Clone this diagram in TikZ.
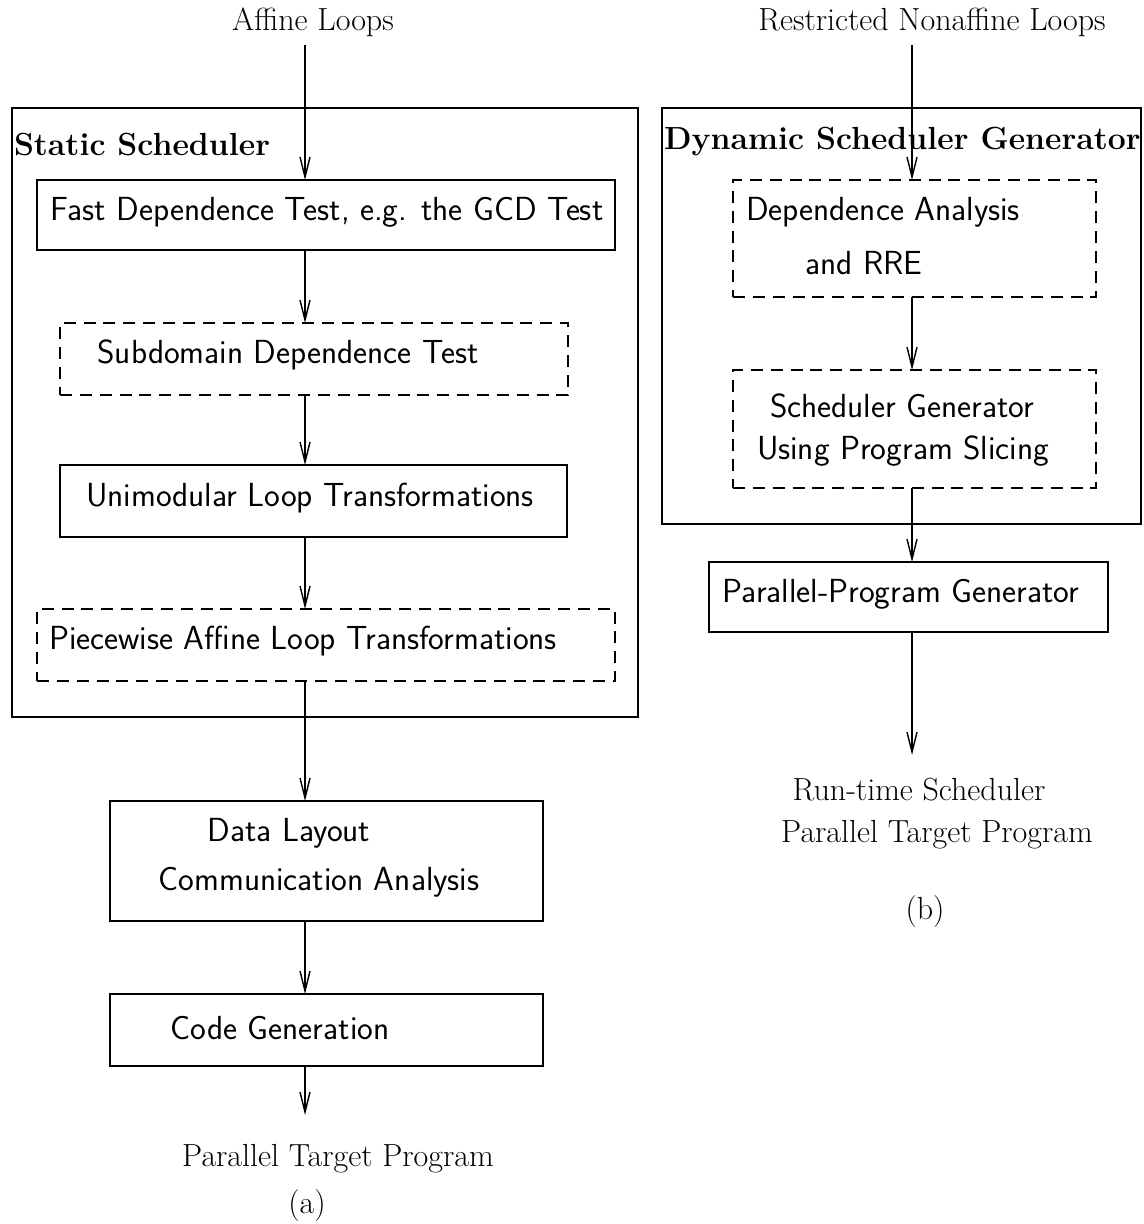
\documentclass[tikz,border=0pt]{standalone}
\usetikzlibrary{arrows.meta}
\begin{document}
\begin{tikzpicture}[
  every node/.style={inner sep=0pt, outer sep=0pt},
  solidbox/.style={draw, line width=1.1pt, rectangle},
  dashbox/.style={draw, line width=1.1pt, rectangle, dash pattern=on 6.8pt off 4.5pt},
  frame/.style={draw, line width=1.1pt},
  flow/.style={line width=0.8pt, -{Straight Barb[length=4mm, width=2mm]}},
  sflabel/.style={font=\fontsize{19}{23}\sffamily, text height=0.7em, text depth=0pt, yshift=-0.06cm},
  rmlabel/.style={font=\fontsize{18.2}{22}\selectfont, text height=0.7em, text depth=0pt, yshift=-0.05cm},
  bflabel/.style={font=\fontsize{18.2}{22}\bfseries, text height=0.7em, text depth=0pt, yshift=-0.08cm}
]
\useasboundingbox (0,0) rectangle (22.86,-24.48);

% ---------- (a) ----------
\node[rmlabel] (affine) at (6.26,-0.44) {Affine Loops};
\draw[frame] (0.24,-2.16) rectangle (12.76,-14.34);
\node[bflabel, anchor=west] (static) at (0.28,-2.9) {Static Scheduler};

\node[solidbox, minimum width=11.56cm, minimum height=1.4cm] (fast) at (6.52,-4.3) {};
\node[sflabel] (fastt) at (6.54,-4.22) {Fast Dependence Test, e.g. the GCD Test};

\node[dashbox, minimum width=10.16cm, minimum height=1.44cm] (sub) at (6.28,-7.18) {};
\node[sflabel] (subt) at (5.76,-7.08) {Subdomain Dependence Test};

\node[solidbox, minimum width=10.14cm, minimum height=1.44cm] (uni) at (6.27,-10.02) {};
\node[sflabel] (unit) at (6.2,-9.94) {Unimodular Loop Transformations};

\node[dashbox, minimum width=11.56cm, minimum height=1.44cm] (piece) at (6.52,-12.9) {};
\node[sflabel] (piecet) at (6.06,-12.8) {Piecewise Affine Loop Transformations};

\node[solidbox, minimum width=8.66cm, minimum height=2.4cm] (data) at (6.53,-17.22) {};
\node[sflabel] (datat1) at (5.78,-16.64) {Data Layout};
\node[sflabel] (datat2) at (6.38,-17.62) {Communication Analysis};

\node[solidbox, minimum width=8.66cm, minimum height=1.44cm] (code) at (6.53,-20.6) {};
\node[sflabel] (codet) at (5.6,-20.6) {Code Generation};

\coordinate (aend) at (6.1,-22.3);
\node[rmlabel] (ptpa) at (6.76,-23.16) {Parallel Target Program};
\node[rmlabel] (capa) at (6.14,-24.1) {(a)};

\draw[flow] (6.1,-0.9) -- (fast.north -| 6.1,0);
\draw[flow] (fast.south -| 6.1,0) -- (sub.north -| 6.1,0);
\draw[flow] (sub.south -| 6.1,0) -- (uni.north -| 6.1,0);
\draw[flow] (uni.south -| 6.1,0) -- (piece.north -| 6.1,0);
\draw[flow] (piece.south -| 6.1,0) -- (data.north -| 6.1,0);
\draw[flow] (data.south -| 6.1,0) -- (code.north -| 6.1,0);
\draw[flow] (code.south -| 6.1,0) -- (aend);

% ---------- (b) ----------
\node[rmlabel] (restr) at (18.64,-0.44) {Restricted Nonaffine Loops};
\draw[frame] (13.24,-2.16) rectangle (22.82,-10.48);
\node[bflabel, anchor=west] (dyn) at (13.28,-2.78) {Dynamic Scheduler Generator};

\node[dashbox, minimum width=7.26cm, minimum height=2.34cm] (dep) at (18.29,-4.77) {};
\node[sflabel] (dept1) at (17.66,-4.22) {Dependence Analysis};
\node[sflabel] (dept2) at (17.28,-5.3) {and RRE};

\node[dashbox, minimum width=7.26cm, minimum height=2.36cm] (sched) at (18.29,-8.58) {};
\node[sflabel] (schedt1) at (18.04,-8.16) {Scheduler Generator};
\node[sflabel] (schedt2) at (18.06,-9.0) {Using Program Slicing};

\node[solidbox, minimum width=7.98cm, minimum height=1.4cm] (ppg) at (18.17,-11.94) {};
\node[sflabel] (ppgt) at (18.02,-11.86) {Parallel-Program Generator};

\coordinate (bend) at (18.24,-15.1);
\node[rmlabel] (rts) at (18.38,-15.84) {Run-time Scheduler};
\node[rmlabel] (ptpb) at (18.74,-16.68) {Parallel Target Program};
\node[rmlabel] (capb) at (18.5,-18.22) {(b)};

\draw[flow] (18.24,-0.9) -- (dep.north -| 18.24,0);
\draw[flow] (dep.south -| 18.24,0) -- (sched.north -| 18.24,0);
\draw[flow] (sched.south -| 18.24,0) -- (ppg.north -| 18.24,0);
\draw[flow] (ppg.south -| 18.24,0) -- (bend);
\end{tikzpicture}
\end{document}
